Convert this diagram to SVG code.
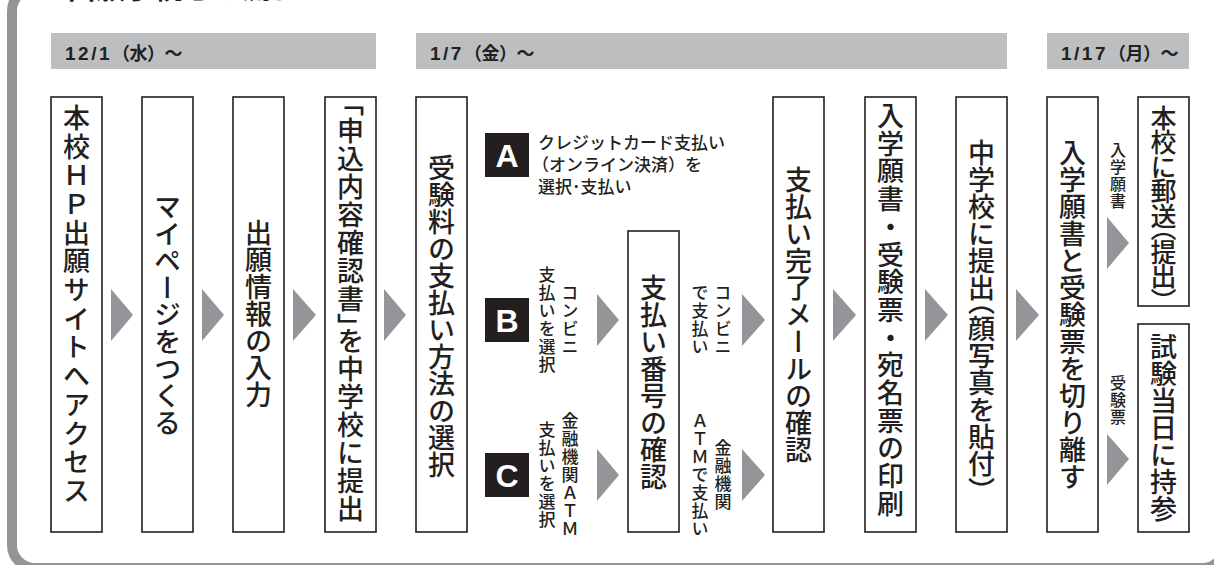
<svg xmlns="http://www.w3.org/2000/svg" width="1214" height="565" viewBox="0 0 1214 565">
<style>
.frame{fill:none;stroke:#939598;stroke-width:10}
.bar{fill:#bcbec0}
.date{font-family:"Liberation Sans","Noto Sans CJK JP",sans-serif;font-weight:bold;font-size:19px;fill:#231f20}
.num{letter-spacing:2.5px}
.cjk{font-family:"Noto Sans CJK JP",sans-serif;font-size:18px;letter-spacing:-0.5px}
.box{fill:#fff;stroke:#231f20;stroke-width:1.6}
.arr{fill:#939598}
.v{writing-mode:vertical-rl;text-anchor:middle;font-family:"Noto Sans CJK JP",sans-serif;font-weight:500;fill:#231f20}
.big{font-size:27px}
.small{font-size:17px;letter-spacing:1px}
.tiny{font-size:16px;letter-spacing:1px}
.hw{font-feature-settings:"vhal" 1}
.h{font-family:"Noto Sans CJK JP",sans-serif;font-weight:500;font-size:17px;fill:#231f20}
.sq{fill:#231f20}
.sql{font-family:"Liberation Sans",sans-serif;font-weight:bold;font-size:32px;fill:#fff;text-anchor:middle}
.title{font-family:"Noto Sans CJK JP",sans-serif;font-weight:bold;font-size:29px;fill:#231f20}
</style>
<rect class="frame" x="12" y="-12" width="1213" height="580" rx="23"/>
<text class="title" x="67" y="-1">出願手続きの流れ</text>

<g id="dates">
<rect class="bar" x="51" y="33" width="325" height="36"/>
<text class="date" x="65" y="60"><tspan class="num">12/1</tspan><tspan class="cjk">（水）〜</tspan></text>
<rect class="bar" x="416" y="33" width="591" height="36"/>
<text class="date" x="430" y="60"><tspan class="num">1/7</tspan><tspan class="cjk">（金）〜</tspan></text>
<rect class="bar" x="1047" y="33" width="142" height="36"/>
<text class="date" x="1061" y="60"><tspan class="num">1/17</tspan><tspan class="cjk">（月）〜</tspan></text>
</g>

<g id="connectors">
<polygon class="arr" points="111,289 133,315 111,341"/>
<polygon class="arr" points="202,289 224,315 202,341"/>
<polygon class="arr" points="293,289 316,315 293,341"/>
<polygon class="arr" points="384,289 406,315 384,341"/>
<polygon class="arr" points="597,294 619,320 597,346"/>
<polygon class="arr" points="597,449 619,475 597,501"/>
<polygon class="arr" points="742,294 765,320 742,346"/>
<polygon class="arr" points="742,449 765,475 742,501"/>
<polygon class="arr" points="833,289 856,315 833,341"/>
<polygon class="arr" points="925,289 948,315 925,341"/>
<polygon class="arr" points="1016,289 1039,315 1016,341"/>
<polygon class="arr" points="1107,217 1129,243 1107,269"/>
<polygon class="arr" points="1107,434 1129,459 1107,485"/>
<text class="v tiny" x="1118" y="176">入学願書</text>
<text class="v tiny" x="1118" y="400">受験票</text>
<text class="v small" x="570" y="320">コンビニ</text>
<text class="v small" x="547" y="320">支払いを選択</text>
<text class="v small" x="570" y="475">金融機関ＡＴＭ</text>
<text class="v small" x="547" y="475">支払いを選択</text>
<text class="v small" x="723" y="320">コンビニ</text>
<text class="v small" x="700" y="320">で支払い</text>
<text class="v small" x="723" y="475">金融機関</text>
<text class="v small" x="700" y="475">ＡＴＭで支払い</text>
</g>

<g id="n1"><rect class="box" x="51" y="97" width="51" height="435"/><text class="v big" x="76.5" y="305" style="letter-spacing:1.7px">本校ＨＰ出願サイトへアクセス</text></g>
<g id="n2"><rect class="box" x="142" y="97" width="51" height="435"/><text class="v big" x="167.5" y="315">マイページをつくる</text></g>
<g id="n3"><rect class="box" x="233" y="97" width="51" height="435"/><text class="v big" x="258.5" y="314">出願情報の入力</text></g>
<g id="n4"><rect class="box" x="325" y="97" width="51" height="435"/><text class="v big" x="350.5" y="313" style="letter-spacing:1px"><tspan class="hw">「</tspan>申込内容確認書<tspan class="hw">」</tspan>を中学校に提出</text></g>
<g id="n5"><rect class="box" x="416" y="97" width="51" height="435"/><text class="v big" x="441.5" y="316">受験料の支払い方法の選択</text></g>

<g id="optA">
<rect class="sq" x="485" y="133" width="44" height="44"/><text class="sql" x="507" y="167">A</text>
<text class="h" x="538" y="149">クレジットカード支払い</text>
<text class="h" x="532" y="171">（オンライン決済）を</text>
<text class="h" x="538" y="193">選択･支払い</text>
</g>
<g id="optB"><rect class="sq" x="485" y="298" width="44" height="44"/><text class="sql" x="507" y="332">B</text></g>
<g id="optC"><rect class="sq" x="485" y="453" width="44" height="44"/><text class="sql" x="507" y="487">C</text></g>

<g id="n6"><rect class="box" x="628" y="231" width="51" height="301"/><text class="v big" x="653.5" y="382">支払い番号の確認</text></g>
<g id="n7"><rect class="box" x="773" y="97" width="51" height="435"/><text class="v big" x="798.5" y="315">支払い完了メールの確認</text></g>
<g id="n8"><rect class="box" x="865" y="97" width="51" height="435"/><text class="v big" x="890.5" y="310" style="letter-spacing:0.7px">入学願書・受験票・宛名票の印刷</text></g>
<g id="n9"><rect class="box" x="956" y="97" width="51" height="435"/><text class="v big" x="981.5" y="315">中学校に提出<tspan class="hw">（</tspan>顔写真を貼付<tspan class="hw">）</tspan></text></g>
<g id="n10"><rect class="box" x="1047" y="97" width="51" height="435"/><text class="v big" x="1072.5" y="315">入学願書と受験票を切り離す</text></g>
<g id="n11"><rect class="box" x="1138" y="97" width="51" height="209"/><text class="v big" x="1163.5" y="202" style="font-size:26px;letter-spacing:-1.5px">本校に郵送<tspan class="hw">（</tspan>提出<tspan class="hw">）</tspan></text></g>
<g id="n12"><rect class="box" x="1138" y="324" width="51" height="208"/><text class="v big" x="1163.5" y="428">試験当日に持参</text></g>
</svg>
